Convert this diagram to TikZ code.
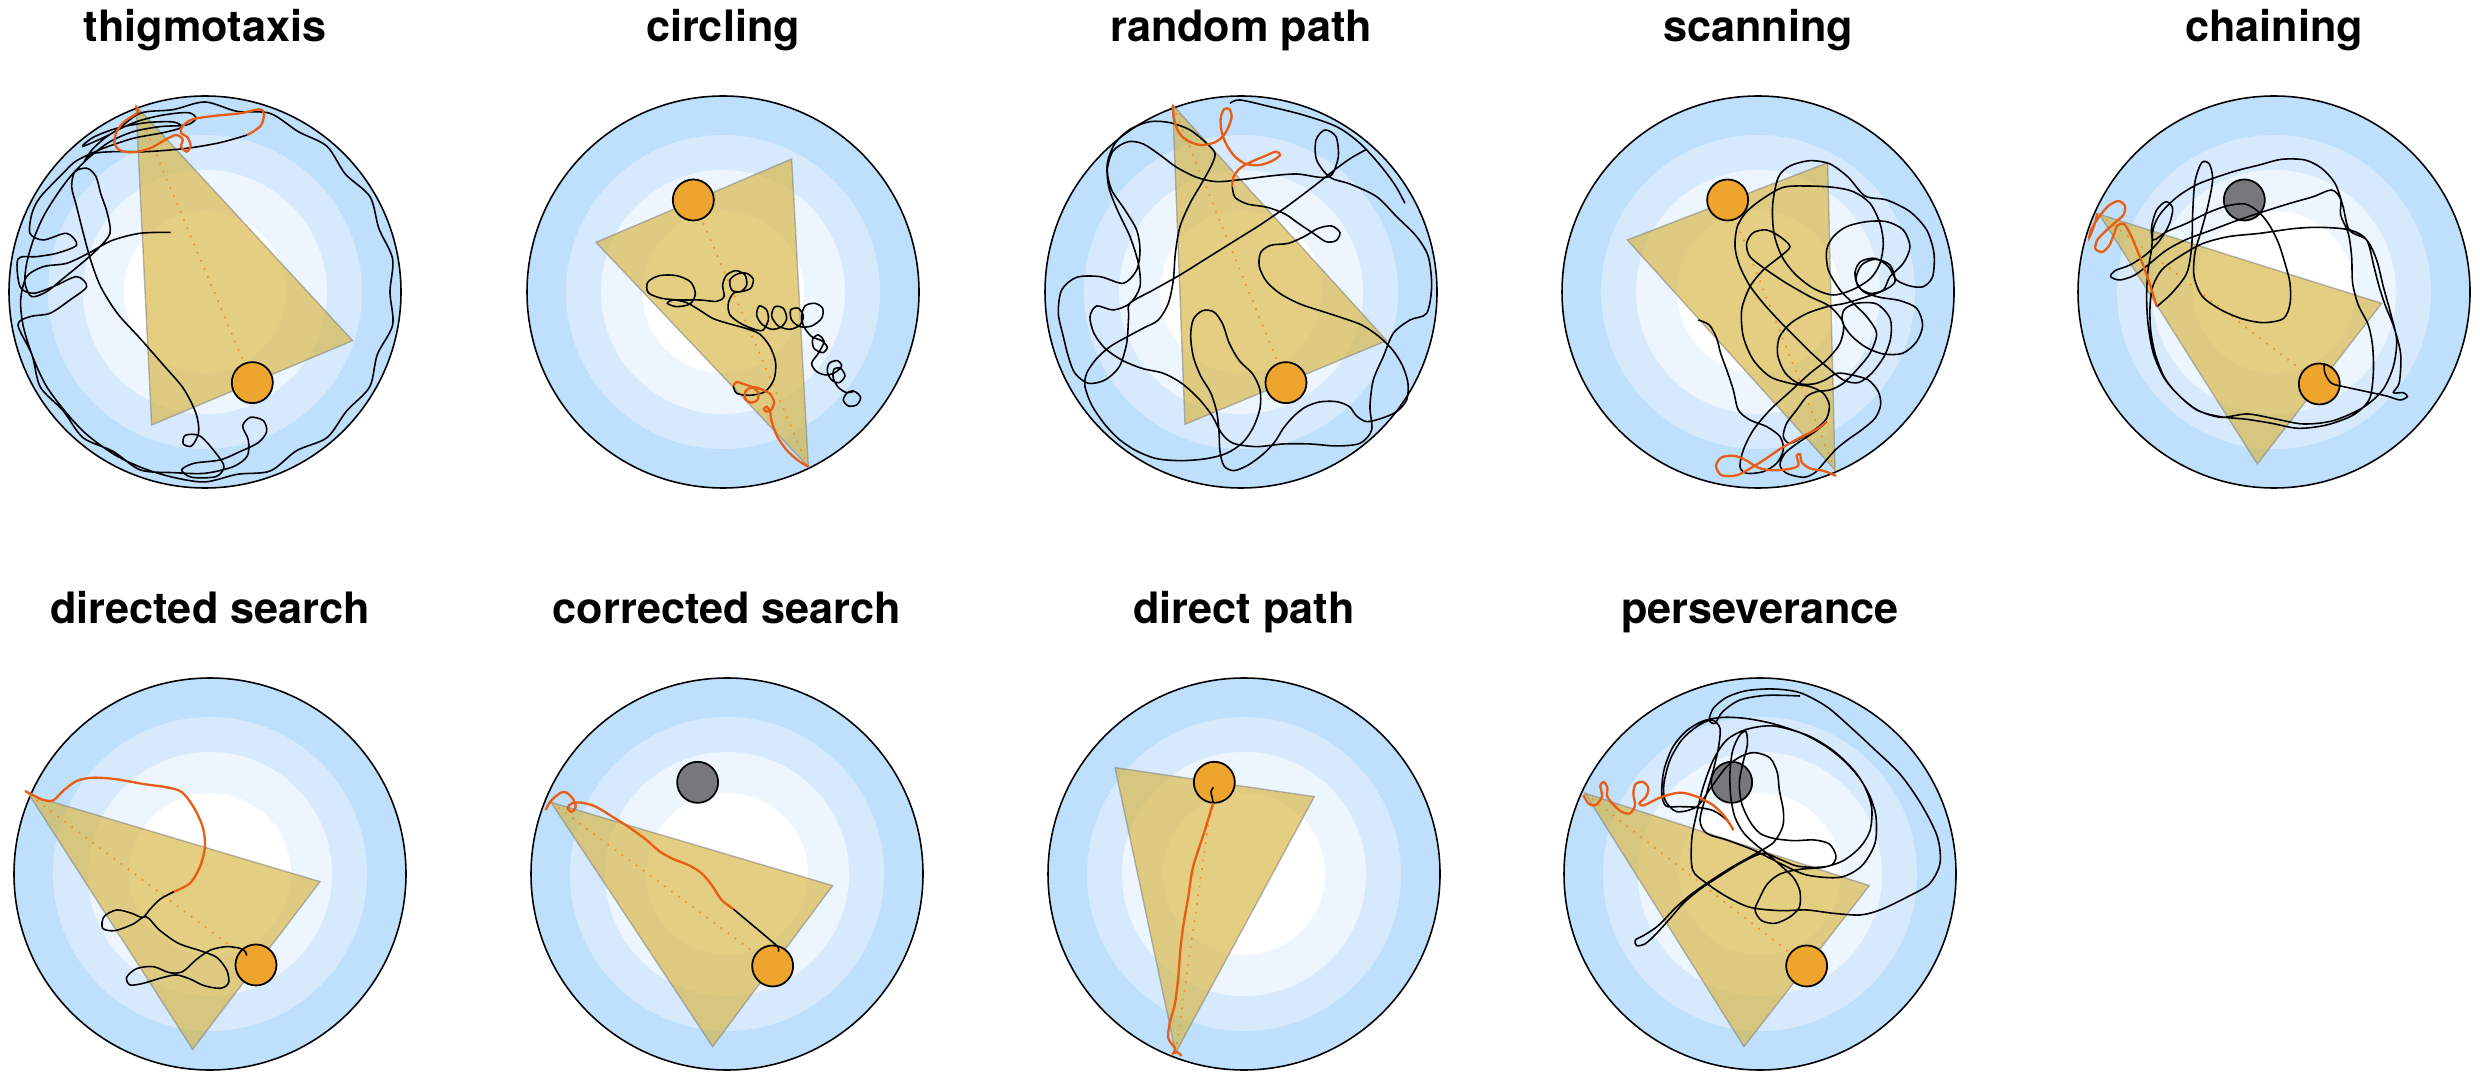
\documentclass[tikz,border=0pt]{standalone}
\usepackage{fontspec}
\setmainfont{TeX Gyre Heros}
\usepackage{tikz}

\definecolor{ringA}{RGB}{190,224,252}
\definecolor{ringB}{RGB}{215,234,253}
\definecolor{ringC}{RGB}{237,246,254}
\definecolor{pathorange}{RGB}{232,92,20}
\definecolor{goalorange}{RGB}{237,165,45}
\definecolor{oldgray}{RGB}{118,120,124}
\definecolor{corridorgold}{RGB}{214,180,62}

\tikzset{
  title/.style={font=\fontsize{12.3}{14}\selectfont\bfseries, anchor=base},
  wall/.style={draw=black, line width=0.45pt},
  corridor/.style={fill=corridorgold, fill opacity=0.65, draw=gray, draw opacity=0.55, line width=0.4pt},
  aim/.style={draw=goalorange!90!red, dotted, line width=0.5pt},
  goal/.style={circle, fill=goalorange, draw=black, line width=0.5pt, minimum size=4.1mm, inner sep=0pt},
  oldgoal/.style={circle, fill=oldgray, draw=black, line width=0.5pt, minimum size=4.1mm, inner sep=0pt},
  traj/.style={draw=black, line width=0.45pt},
  early/.style={draw=pathorange, line width=0.65pt},
}

% pool with its four zones
\newcommand{\arena}[2]{%
  \foreach \r/\c in {196/ringA,157/ringB,122/ringC,81/white}
    \fill[\c] (#1,#2) circle (\r);
  \draw[wall] (#1,#2) circle (196);
}

\begin{document}
\begin{tikzpicture}[x=0.1mm, y=-0.1mm]
\useasboundingbox (0,0) rectangle (2480,1079);

% titles
\node[title] (t1) at (205,42) {thigmotaxis};
\node[title] (t2) at (723,42) {circling};
\node[title] (t3) at (1241,42) {random path};
\node[title] (t4) at (1758,42) {scanning};
\node[title] (t5) at (2274,42) {chaining};
\node[title] (t6) at (210,623) {directed search};
\node[title] (t7) at (727,623) {corrected search};
\node[title] (t8) at (1244,623) {direct path};
\node[title] (t9) at (1760,623) {perseverance};

% thigmotaxis
\arena{205}{292}
\begin{scope}[shift={(0,0)}, scale=0.3333]
\coordinate (s1) at (408,318); \coordinate (p1) at (455,1275); \coordinate (q1) at (1058,1022);
\fill[corridor] (s1) -- (p1) -- (q1) -- cycle;
\node[goal] (g1) at (757,1148) {};
\draw[aim] (s1) -- (g1);
\draw[traj] plot[smooth] coordinates {(742,405) (660,428) (560,445) (440,455) (340,455) (275,462) (250,490) (280,445) (335,400) (410,365) (490,345) (565,338) (588,355) (560,375) (480,380) (400,395) (330,425) (270,470) (215,525) (170,585) (130,650) (100,720) (80,790) (75,850) (95,890) (140,875) (190,835) (245,790) (295,745) (330,700) (322,640) (302,580) (288,530) (262,505) (225,515) (215,560) (230,620) (250,700) (272,780) (302,860) (352,940) (420,1015) (490,1095) (550,1165) (588,1240) (596,1298) (575,1338) (550,1332) (556,1306) (600,1308) (648,1360) (672,1400) (648,1430) (575,1432) (545,1410) (582,1390) (660,1380) (720,1355) (775,1328) (800,1295) (790,1262) (752,1252) (728,1278) (745,1320) (742,1368) (700,1400) (615,1420) (519,1418) (421,1410) (339,1354) (249,1313) (190,1233) (121,1161) (96,1065) (54,975) (90,950) (150,940) (210,900) (260,860) (230,830) (160,860) (100,880) (60,860) (54,777) (110,770) (170,760) (230,735) (200,700) (130,720) (90,700) (96,640) (121,591) (190,519) (230,482) (310,445) (400,415) (490,398) (545,382) (520,366) (440,368) (350,385) (280,412) (249,439) (339,398) (420,340) (519,329) (615,306) (711,334) (810,340) (895,395) (981,439) (1036,522) (1110,590) (1137,686) (1178,777) (1170,876) (1178,975) (1132,1064) (1109,1161) (1040,1233) (981,1313) (890,1352) (811,1413) (712,1423) (615,1446) (519,1432) (430,1405) (345,1365) (262,1305) (200,1240) (140,1160) (100,1075) (70,980) (62,900) (80,830) (130,800) (200,790) (265,760) (335,722) (420,700) (512,697)};
\draw[early] plot[smooth] coordinates {(408,318) (414,336) (398,348) (372,366) (352,392) (343,425) (358,450) (400,457) (450,445) (495,420) (528,405) (548,418) (543,440) (560,455) (572,438) (563,413) (543,398) (548,378) (578,358) (640,348) (720,340) (778,328) (792,342) (782,378) (742,405)};
\end{scope}

% circling
\arena{723}{292}
\begin{scope}[shift={(500,100)}, scale=0.3333]
\coordinate (s2) at (925,1100); \coordinate (p2) at (288,427); \coordinate (q2) at (875,177);
\fill[corridor] (s2) -- (p2) -- (q2) -- cycle;
\node[goal] (g2) at (580,300) {};
\draw[aim] (s2) -- (g2);
\draw[traj] plot[smooth] coordinates {(700,858) (710,880) (750,886) (795,875) (822,838) (827,788) (810,740) (780,703) (740,686) (690,672) (640,656) (598,630) (560,608) (520,600) (502,610) (530,620) (570,612) (586,582) (572,546) (530,527) (478,527) (443,547) (445,578) (485,595) (540,600) (600,600) (650,604) (672,590) (668,555) (680,525) (708,512) (735,525) (740,555) (722,575) (695,570) (690,540) (712,522) (740,520) (760,538) (752,565) (725,575) (700,580) (685,610) (690,645) (725,672) (770,690) (790,690) (805,660) (800,630) (778,618) (770,645) (785,672) (815,688) (845,680) (860,655) (850,625) (825,620) (815,648) (835,678) (870,688) (900,675) (910,648) (895,625) (872,630) (875,660) (900,680) (935,678) (965,655) (968,625) (945,610) (915,618) (905,650) (912,680) (935,710) (965,722) (982,742) (968,758) (942,745) (938,718) (955,705) (972,725) (955,760) (935,790) (950,815) (978,825) (1005,818) (1025,798) (1012,782) (988,790) (982,815) (995,840) (1018,848) (1035,828) (1022,805) (1002,808) (1000,835) (1015,862) (1040,878) (1065,875) (1082,893) (1070,915) (1045,918) (1030,900) (1042,878) (1062,872)};
\draw[early] plot[smooth] coordinates {(925,1100) (895,1082) (860,1050) (832,1010) (815,965) (810,935) (800,920) (792,928) (800,935) (815,928) (822,905) (810,882) (785,868) (760,862) (738,872) (735,895) (752,908) (772,900) (775,878) (758,862) (730,852) (710,846) (700,858)};
\end{scope}

% random path
\arena{1241}{292}
\begin{scope}[shift={(1030,90)}, scale=0.3333]
\coordinate (s3) at (428,45); \coordinate (p3) at (465,1003); \coordinate (q3) at (1070,752);
\fill[corridor] (s3) -- (p3) -- (q3) -- cycle;
\node[goal] (g3) at (768,878) {};
\draw[aim] (s3) -- (g3);
\draw[traj] plot[smooth] coordinates {(607,290) (615,322) (652,342) (712,352) (765,372) (808,402) (850,430) (888,455) (918,452) (930,428) (905,408) (865,415) (822,440) (775,460) (722,466) (692,488) (688,530) (710,575) (752,612) (810,642) (870,662) (935,683) (995,705) (1045,738) (1088,780) (1118,828) (1134,880) (1130,930) (1100,965) (1055,985) (1010,995) (980,978) (958,950) (920,935) (868,936) (825,952) (790,980) (760,1015) (735,1055) (700,1092) (655,1125) (612,1142) (582,1128) (570,1085) (567,1025) (560,965) (542,908) (512,858) (490,800) (482,738) (490,688) (518,662) (552,666) (578,702) (598,760) (628,812) (668,852) (690,900) (690,955) (670,1012) (638,1058) (590,1090) (530,1106) (455,1112) (380,1106) (318,1082) (265,1046) (222,1000) (185,945) (165,890) (170,850) (198,808) (240,770) (296,738) (345,712) (385,690) (415,640) (430,570) (436,490) (450,410) (480,340) (515,280) (545,225) (555,190) (530,160) (480,120) (420,98) (360,95) (300,118) (255,160) (232,220) (236,290) (262,360) (300,440) (325,520) (330,590) (300,640) (250,660) (200,648) (180,680) (192,730) (225,775) (275,810) (335,835) (400,850) (455,880) (505,925) (545,975) (575,1030) (610,1060) (680,1070) (760,1062) (840,1062) (920,1068) (990,1060) (1025,1020) (1020,950) (1030,870) (1060,800) (1090,730) (1140,690) (1190,670) (1205,590) (1195,500) (1160,440) (1100,380) (1040,320) (960,282) (900,262) (860,210) (858,150) (885,120) (918,140) (925,200) (905,255) (870,262) (800,252) (720,258) (640,268) (560,275) (500,262) (440,232) (390,195) (340,162) (295,155) (250,182) (232,240) (245,300) (285,360) (320,420) (330,480) (320,540) (280,580) (210,560) (140,562) (95,600) (85,670) (100,740) (115,800) (135,850) (175,880) (225,870) (268,830) (290,760) (296,680) (300,640) (370,600) (450,555) (530,505) (610,455) (690,405) (770,350) (850,290) (920,235) (965,203) (1010,178)};
\draw[traj] plot[smooth] coordinates {(600,40) (630,30) (720,50) (820,75) (920,110) (990,160) (1050,225) (1095,285) (1125,340)};
\draw[early] plot[smooth] coordinates {(428,45) (432,85) (445,125) (472,152) (512,165) (552,158) (578,140) (595,112) (605,80) (598,57) (582,58) (572,85) (575,125) (590,165) (615,200) (648,222) (690,225) (728,212) (750,195) (738,185) (705,198) (665,215) (630,235) (610,262) (607,290)};
\end{scope}

% scanning
\arena{1758}{292}
\begin{scope}[shift={(1550,90)}, scale=0.3333]
\coordinate (s4) at (855,1140); \coordinate (p4) at (232,450); \coordinate (q4) at (833,218);
\fill[corridor] (s4) -- (p4) -- (q4) -- cycle;
\node[goal] (g4) at (533,330) {};
\draw[aim] (s4) -- (g4);
\draw[traj] plot[smooth] coordinates {(830,995) (795,1025) (745,1058) (705,1090) (690,1125) (710,1150) (760,1162) (795,1148) (825,1115) (858,1078) (895,1048) (935,1020) (975,985) (992,945) (985,905) (955,870) (905,855) (862,850) (825,870) (790,882) (745,880) (705,848) (683,795) (688,742) (722,700) (772,670) (832,650) (885,640) (945,622) (1000,602) (1035,575) (1020,525) (975,508) (935,525) (918,568) (940,605) (990,622) (1050,632) (1100,655) (1118,705) (1100,755) (1058,790) (1000,792) (948,772) (905,738) (878,698) (882,660) (920,640) (980,642) (1020,685) (1022,745) (1002,800) (965,850) (925,878) (880,870) (830,830) (785,790) (740,745) (690,695) (640,640) (598,585) (568,525) (555,470) (562,410) (590,365) (640,325) (700,292) (770,288) (850,292) (910,305) (960,340) (990,400) (1000,460) (990,520) (962,565) (910,598) (850,615) (790,595) (735,552) (695,498) (672,430) (668,345) (685,262) (720,228) (780,212) (840,222) (895,262) (945,318) (1010,330) (1080,365) (1130,420) (1152,490) (1148,560) (1120,590) (1080,588) (1040,570) (1015,530) (975,505) (932,515) (915,548) (925,590) (960,610) (1000,600) (1020,560) (1060,520) (1080,470) (1060,420) (1010,395) (950,395) (890,410) (850,440) (830,480) (835,540) (870,600) (910,640) (950,680) (980,730) (960,790) (920,840) (880,880) (840,900) (800,905) (770,920) (740,960) (710,1000) (700,1040) (720,1060) (760,1040) (800,1015) (830,985) (838,945) (820,910) (780,890) (720,880) (660,860) (610,810) (580,740) (575,660) (600,590) (640,540) (690,500) (720,470) (690,440) (650,420) (610,428) (590,460) (600,500) (650,540) (710,580) (780,620) (840,650) (880,700) (870,760) (830,810) (780,850) (720,905) (660,960) (610,1020) (580,1080) (570,1130) (590,1150) (640,1145) (680,1120) (700,1080) (690,1040) (650,1010) (600,990) (565,960) (550,900) (530,840) (512,790) (500,745) (478,705) (445,690)};
\draw[early] plot[smooth] coordinates {(858,1158) (822,1143) (782,1136) (756,1118) (750,1092) (740,1098) (745,1127) (712,1138) (662,1141) (622,1132) (590,1112) (555,1098) (515,1102) (498,1128) (515,1156) (560,1156) (603,1134) (645,1108) (695,1074) (752,1042) (800,1018) (830,995)};
\end{scope}

% chaining
\arena{2274}{292}
\begin{scope}[shift={(2020,100)}, scale=0.3333]
\coordinate (s5) at (238,343); \coordinate (p5) at (712,1092); \coordinate (q5) at (1085,610);
\fill[corridor] (s5) -- (p5) -- (q5) -- cycle;
\node[oldgoal] (o5) at (673,300) {};
\node[goal] (g5) at (898,852) {};
\draw[aim] (s5) -- (g5);
\draw[traj] plot[smooth] coordinates {(410,620) (455,580) (500,520) (515,440) (518,340) (525,245) (545,188) (568,192) (578,238) (565,312) (545,388) (525,458) (522,528) (546,588) (600,628) (665,656) (730,668) (790,656) (810,612) (810,550) (795,490) (775,428) (748,375) (715,335) (675,312) (620,318) (560,340) (500,370) (440,395) (400,420) (395,380) (410,330) (438,305) (458,325) (448,372) (420,420) (380,462) (330,495) (285,512) (272,530) (300,540) (345,525) (390,490) (440,450) (500,418) (570,392) (650,362) (730,335) (810,310) (880,290) (935,270) (962,298) (962,345) (985,400) (995,470) (998,550) (1015,615) (1045,675) (1058,740) (1060,820) (1048,898) (1000,945) (920,975) (835,985) (755,970) (680,958) (600,950) (530,930) (470,880) (430,830) (400,760) (385,680) (380,600) (383,520) (395,445) (400,385) (422,340) (470,292) (528,255) (588,232) (650,212) (718,195) (785,178) (855,180) (905,205) (945,250) (968,315) (988,390) (1040,420) (1070,480) (1090,560) (1112,640) (1130,720) (1120,800) (1088,870) (1030,922) (940,962) (850,972) (762,956) (682,942) (602,952) (532,930) (472,882) (432,830) (405,760) (392,690) (390,620) (398,560) (425,510) (475,472) (545,432) (625,410) (720,400) (820,386) (900,382) (990,390) (1040,420) (1062,500) (1078,562) (1098,622) (1122,682) (1142,762) (1138,848) (1120,878) (1150,878) (1162,890) (1140,900) (1100,888) (1040,875) (980,862) (935,850) (915,820) (912,790)};
\draw[early] plot[smooth] coordinates {(232,340) (222,378) (208,412) (214,388) (236,352) (265,318) (295,303) (315,318) (310,345) (285,368) (255,395) (232,420) (226,446) (246,456) (267,438) (281,405) (292,377) (312,372) (332,405) (352,452) (372,502) (392,560) (410,620)};
\end{scope}

% directed search
\arena{210}{874}
\begin{scope}[shift={(0,580)}, scale=0.3333]
\coordinate (s6) at (88,645); \coordinate (p6) at (578,1408); \coordinate (q6) at (960,905);
\fill[corridor] (s6) -- (p6) -- (q6) -- cycle;
\node[goal] (g6) at (768,1155) {};
\draw[aim] (s6) -- (g6);
\draw[traj] plot[smooth] coordinates {(522,935) (480,958) (450,988) (428,1012) (395,1000) (350,990) (312,1010) (308,1045) (345,1052) (400,1032) (438,1010) (478,1050) (535,1090) (600,1112) (650,1132) (680,1170) (686,1208) (662,1225) (612,1217) (570,1197) (528,1185) (480,1195) (430,1210) (390,1215) (380,1192) (410,1166) (460,1160) (508,1178) (548,1175) (590,1138) (632,1110) (680,1100) (720,1105) (736,1115) (740,1127)};
\draw[early] plot[smooth] coordinates {(75,633) (100,646) (130,660) (160,661) (190,632) (230,603) (280,593) (350,598) (430,612) (500,622) (545,636) (580,680) (608,740) (615,800) (600,860) (570,910) (522,935)};
\end{scope}

% corrected search
\arena{727}{874}
\begin{scope}[shift={(515,670)}, scale=0.3333]
\coordinate (s7) at (108,397); \coordinate (p7) at (593,1130); \coordinate (q7) at (953,647);
\fill[corridor] (s7) -- (p7) -- (q7) -- cycle;
\node[oldgoal] (o7) at (548,337) {};
\node[goal] (g7) at (773,888) {};
\draw[aim] (s7) -- (g7);
\draw[traj] plot[smooth] coordinates {(655,717) (700,755) (742,790) (775,818) (790,832) (790,845)};
\draw[early] plot[smooth] coordinates {(92,420) (108,392) (138,368) (155,368) (175,388) (182,410) (170,426) (158,414) (170,400) (200,398) (242,410) (292,440) (342,472) (392,508) (432,543) (472,566) (522,586) (560,610) (590,645) (620,690) (655,717)};
\end{scope}

% direct path
\arena{1244}{874}
\begin{scope}[shift={(1035,670)}, scale=0.3333]
\coordinate (s8) at (422,1148); \coordinate (p8) at (240,293); \coordinate (q8) at (838,380);
\fill[corridor] (s8) -- (p8) -- (q8) -- cycle;
\node[goal] (g8) at (538,337) {};
\draw[aim] (s8) -- (g8);
\draw[traj] plot[smooth] coordinates {(535,400) (531,380) (528,365) (535,352)};
\draw[early] plot[smooth] coordinates {(440,1158) (426,1146) (415,1150) (420,1135) (400,1105) (404,1060) (420,1000) (430,920) (436,840) (446,760) (460,680) (472,600) (490,540) (510,480) (525,430) (535,400)};
\end{scope}

% perseverance
\arena{1760}{874}
\begin{scope}[shift={(1540,620)}, scale=0.3333]
\coordinate (s9) at (135,520); \coordinate (p9) at (612,1280); \coordinate (q9) at (988,797);
\fill[corridor] (s9) -- (p9) -- (q9) -- cycle;
\node[oldgoal] (o9) at (575,487) {};
\node[goal] (g9) at (800,1038) {};
\draw[aim] (s9) -- (g9);
\draw[traj] plot[smooth] coordinates {(580,630) (560,600) (520,572) (470,562) (420,560) (378,558) (365,520) (372,450) (398,382) (440,332) (492,302) (552,292) (622,296) (702,312) (790,342) (862,382) (922,432) (970,492) (995,562) (990,632) (960,682) (910,722) (850,742) (780,748) (720,762) (682,792) (660,832) (645,870) (665,902) (705,910) (748,892) (778,862) (780,815) (762,775) (728,742) (690,708) (650,676) (612,640) (585,592) (572,528) (570,455) (578,392) (598,347) (618,335) (622,375) (608,432) (598,490) (605,550) (630,605) (660,640) (700,655) (760,662) (822,660) (868,672) (888,708) (875,735) (832,742) (770,738) (720,718) (670,700) (610,725) (545,765) (480,808) (430,850) (388,898) (348,942) (315,972) (290,977) (286,960) (312,946) (356,916) (405,865) (455,822) (515,780) (578,740) (640,705) (700,668) (728,620) (730,572) (718,510) (712,458) (690,414) (645,398) (605,408) (560,440) (515,500) (470,560) (410,575) (375,540) (372,490) (390,420) (425,360) (470,320) (515,300) (540,325) (535,385) (520,450) (500,520) (480,600) (500,640) (560,660) (640,690) (720,730) (800,765) (900,772) (965,738) (1005,670) (1008,590) (988,525) (945,455) (880,392) (800,345) (700,318) (620,328) (560,360) (520,420) (490,500) (470,580) (455,660) (458,750) (500,790) (560,830) (630,862) (720,872) (800,870) (880,880) (960,885) (1020,870) (1100,832) (1168,792) (1200,730) (1192,650) (1145,555) (1080,462) (1000,385) (930,320) (860,260) (780,218) (700,207) (620,212) (560,232) (520,265) (508,300) (525,310) (548,275) (600,240) (680,226) (780,228)};
\draw[early] plot[smooth] coordinates {(130,525) (145,550) (166,556) (186,530) (181,497) (191,486) (202,502) (202,530) (222,556) (246,576) (270,580) (285,556) (280,520) (287,492) (310,486) (325,505) (318,530) (298,550) (312,556) (362,532) (420,518) (470,530) (520,556) (556,592) (580,630)};
\end{scope}

\end{tikzpicture}
\end{document}
